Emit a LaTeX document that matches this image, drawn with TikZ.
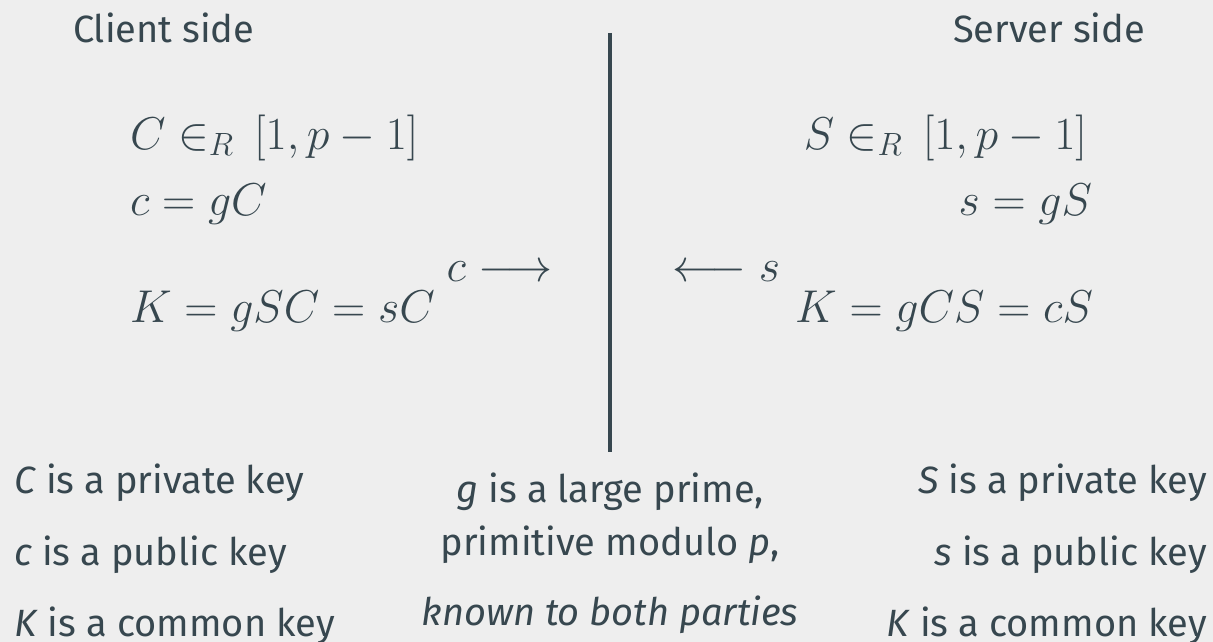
\RequirePackage{fix-cm}
\documentclass[tikz,border=0pt]{standalone}
\usepackage{fontspec}
\setmainfont{Fira Sans}
\definecolor{ink}{HTML}{37474F}
\definecolor{bg}{HTML}{EEEEEE}
\begin{document}
\begin{tikzpicture}[x=1pt,y=-1pt,
  every node/.style={inner sep=0pt, outer sep=0pt, text=ink},
  mathtxt/.style={font=\fontsize{46}{52}\selectfont},
  lbl/.style={font=\fontsize{38}{44}\selectfont},
  divider/.style={draw=ink, line width=4pt}]
\fill[bg] (0,0) rectangle (1213,642);
\useasboundingbox (0,0) rectangle (1213,642);
% headers
\node[lbl, anchor=base west] (client) at (73,43) {Client side};
\node[lbl, anchor=base east] (server) at (1145,43) {Server side};
% divider
\coordinate (top) at (610,33);
\coordinate (bot) at (610,452);
\draw[divider] (top) -- (bot);
% client math
\node[mathtxt, anchor=base west] (cr) at (130,149) {$C \in_R\, [1,p-1]$};
\node[mathtxt, anchor=base west] (cg) at (130,215) {$c = gC$};
\node[mathtxt, anchor=base west] (ck) at (130,322) {$K = gSC = sC$};
\node[mathtxt, anchor=base east] (carrow) at (553,281) {$c \longrightarrow$};
% server math
\node[mathtxt, anchor=base west] (sarrow) at (672,281) {$\longleftarrow s$};
\node[mathtxt, anchor=base east] (sr) at (1087,149) {$S \in_R\, [1,p-1]$};
\node[mathtxt, anchor=base east] (sg) at (1092,215) {$s = gS$};
\node[mathtxt, anchor=base east] (sk) at (1093,322) {$K = gCS = cS$};
% bottom left
\node[lbl, anchor=base west] (l1) at (14,493) {\textit{C} is a private key};
\node[lbl, anchor=base west] (l2) at (14,565) {\textit{c} is a public key};
\node[lbl, anchor=base west] (l3) at (14,636) {\textit{K} is a common key};
% bottom middle
\node[lbl, anchor=base] (m1) at (610,502) {\textit{g} is a large prime,};
\node[lbl, anchor=base] (m2) at (610,555) {primitive modulo \textit{p},};
\node[lbl, anchor=base] (m3) at (610,625) {\textit{known to both parties}};
% bottom right
\node[lbl, anchor=base east] (r1) at (1207,493) {\textit{S} is a private key};
\node[lbl, anchor=base east] (r2) at (1207,565) {\textit{s} is a public key};
\node[lbl, anchor=base east] (r3) at (1207,636) {\textit{K} is a common key};
\end{tikzpicture}
\end{document}
